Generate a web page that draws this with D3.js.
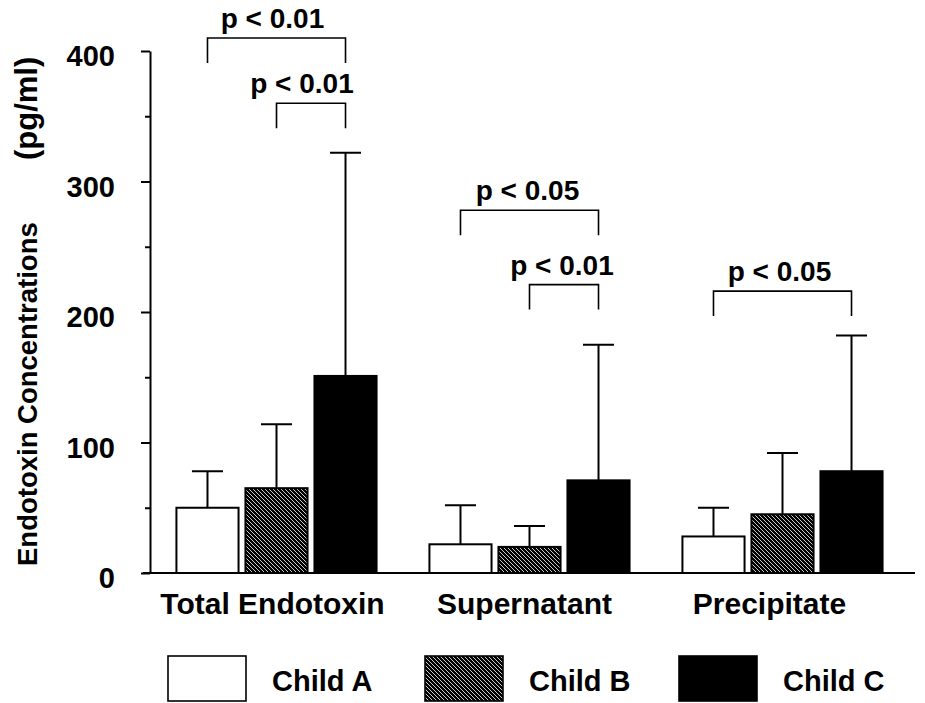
<html>
  <head>
    <meta charset="utf-8">
    <title>Endotoxin</title>
    <script src="https://d3js.org/d3.v7.min.js"></script>
    <style type="text/css">
      body { margin: 0; background: #fff; }
      svg text {
        font-family: "Liberation Sans", Arial, sans-serif;
        font-weight: bold;
        fill: #000;
      }
    </style>
  </head>
  <body>
    <div id="chart"></div>
  </body>
</html>
<script type="text/javascript">
  const width = 925,
    height = 703;

  // data
  const groups = ["Total Endotoxin", "Supernatant", "Precipitate"];
  const children = ["Child A", "Child B", "Child C"];
  const childA = [50, 22, 28];
  const childA_sd = [28, 30, 22];
  const childB = [65, 20, 45];
  const childB_sd = [49, 16, 47];
  const childC = [151, 71, 78];
  const childC_sd = [171, 104, 104];
  const yTicks = [0, 100, 200, 300, 400];
  const yMinor = [50, 150, 250, 350];

  // significance brackets: group, from child, to child, top value, label
  const brackets = [
    ["Total Endotoxin", "Child A", "Child C", 410, "p < 0.01"],
    ["Total Endotoxin", "Child B", "Child C", 360, "p < 0.01"],
    ["Supernatant", "Child A", "Child C", 278, "p < 0.05"],
    ["Supernatant", "Child B", "Child C", 221, "p < 0.01"],
    ["Precipitate", "Child A", "Child C", 216, "p < 0.05"]
  ];
  const bracketDx = [-4, -9, -2, -2, -3];
  const groupDx = [-4, -5, -13];

  const means = [childA, childB, childC];
  const sds = [childA_sd, childB_sd, childC_sd];
  const fills = ["#fff", "url(#hatch)", "#000"];

  const rows = [];
  groups.forEach(function(g, gi) {
    children.forEach(function(c, ci) {
      rows.push({group: g, child: c, ci: ci, mean: means[ci][gi], sd: sds[ci][gi]});
    });
  });

  const svg = d3.select("#chart").append("svg")
    .attr("width", width)
    .attr("height", height);

  const defs = svg.append("defs");
  const pat = defs.append("pattern")
    .attr("id", "hatch")
    .attr("patternUnits", "userSpaceOnUse")
    .attr("width", 4)
    .attr("height", 4);
  pat.append("rect").attr("width", 4).attr("height", 4).attr("fill", "#000");
  pat.append("path")
    .attr("d", "M-1,-1L5,5M3,-1L5,1M-1,3L1,5")
    .attr("stroke", "#fff")
    .attr("stroke-width", 0.8);

  const y = d3.scaleLinear().domain([0, 400]).range([573, 51]);

  const x0 = d3.scaleBand().domain(groups).range([150, 909]);
  const x1 = d3.scaleBand().domain(children)
    .range([0, x0.bandwidth()])
    .paddingInner(0.1)
    .paddingOuter(0.383);

  const cx = function(g, c) { return x0(g) + x1(c) + x1.bandwidth() / 2; };

  // error bars (drawn under the bars)
  const err = svg.append("g").attr("stroke", "#000").attr("stroke-width", 2);
  err.selectAll(".stem")
    .data(rows).enter().append("line")
    .attr("x1", d => cx(d.group, d.child))
    .attr("x2", d => cx(d.group, d.child))
    .attr("y1", d => y(d.mean))
    .attr("y2", d => y(d.mean + d.sd));
  err.selectAll(".cap")
    .data(rows).enter().append("line")
    .attr("x1", d => cx(d.group, d.child) - x1.bandwidth() / 4)
    .attr("x2", d => cx(d.group, d.child) + x1.bandwidth() / 4)
    .attr("y1", d => y(d.mean + d.sd))
    .attr("y2", d => y(d.mean + d.sd));

  svg.append("g").selectAll("rect")
    .data(rows).enter().append("rect")
    .attr("x", d => x0(d.group) + x1(d.child))
    .attr("y", d => y(d.mean))
    .attr("width", x1.bandwidth())
    .attr("height", d => y(0) - y(d.mean))
    .attr("fill", d => fills[d.ci])
    .attr("stroke", "#000")
    .attr("stroke-width", 2);

  // y axis, major and minor ticks
  const yAxis = svg.append("g")
    .attr("transform", "translate(150,0)")
    .call(d3.axisLeft(y).tickValues(yTicks).tickSize(9).tickSizeOuter(0).tickPadding(26));
  yAxis.select(".domain").attr("stroke-width", 2);
  yAxis.selectAll(".tick line").attr("stroke-width", 2);
  yAxis.selectAll(".tick text")
    .attr("dy", "0.5em")
    .style("font-size", "29px")
    .style("font-family", "'Liberation Sans', Arial, sans-serif");

  const yMinorAxis = svg.append("g")
    .attr("transform", "translate(150,0)")
    .call(d3.axisLeft(y).tickValues(yMinor).tickSize(5).tickSizeOuter(0).tickFormat(""));
  yMinorAxis.select(".domain").remove();
  yMinorAxis.selectAll(".tick line").attr("stroke-width", 2);

  // baseline
  svg.append("line")
    .attr("x1", 143).attr("x2", 915)
    .attr("y1", y(0)).attr("y2", y(0))
    .attr("stroke", "#000").attr("stroke-width", 2);

  // category labels
  svg.append("g").selectAll("text")
    .data(groups).enter().append("text")
    .attr("x", (d, i) => x0(d) + x0.bandwidth() / 2 + groupDx[i])
    .attr("y", 614)
    .attr("text-anchor", "middle")
    .style("font-size", "30px")
    .text(d => d);

  // y title
  svg.append("text")
    .attr("transform", "translate(37,566) rotate(-90)")
    .style("font-size", "27.5px")
    .text("Endotoxin Concentrations");
  svg.append("text")
    .attr("transform", "translate(37,160) rotate(-90)")
    .style("font-size", "31px")
    .text("(pg/ml)");

  // brackets
  const br = svg.append("g");
  brackets.forEach(function(b, i) {
    const xa = cx(b[0], b[1]), xb = cx(b[0], b[2]);
    const top = y(b[3]);
    br.append("path")
      .attr("d", "M" + xa + "," + (top + 25) + "V" + top + "H" + xb + "V" + (top + 25))
      .attr("fill", "none")
      .attr("stroke", "#000")
      .attr("stroke-width", 1.6);
    br.append("text")
      .attr("x", (xa + xb) / 2 + bracketDx[i])
      .attr("y", top - 10)
      .attr("text-anchor", "middle")
      .style("font-size", "28px")
      .text(b[4]);
  });

  // legend
  const legendX = [168, 425, 679];
  const legend = svg.append("g");
  children.forEach(function(c, i) {
    legend.append("rect")
      .attr("x", legendX[i]).attr("y", 656)
      .attr("width", 78).attr("height", 45)
      .attr("fill", fills[i])
      .attr("stroke", "#000")
      .attr("stroke-width", 1.6);
    legend.append("text")
      .attr("x", legendX[i] + 104)
      .attr("y", 691)
      .style("font-size", "29px")
      .text(c);
  });
</script>
